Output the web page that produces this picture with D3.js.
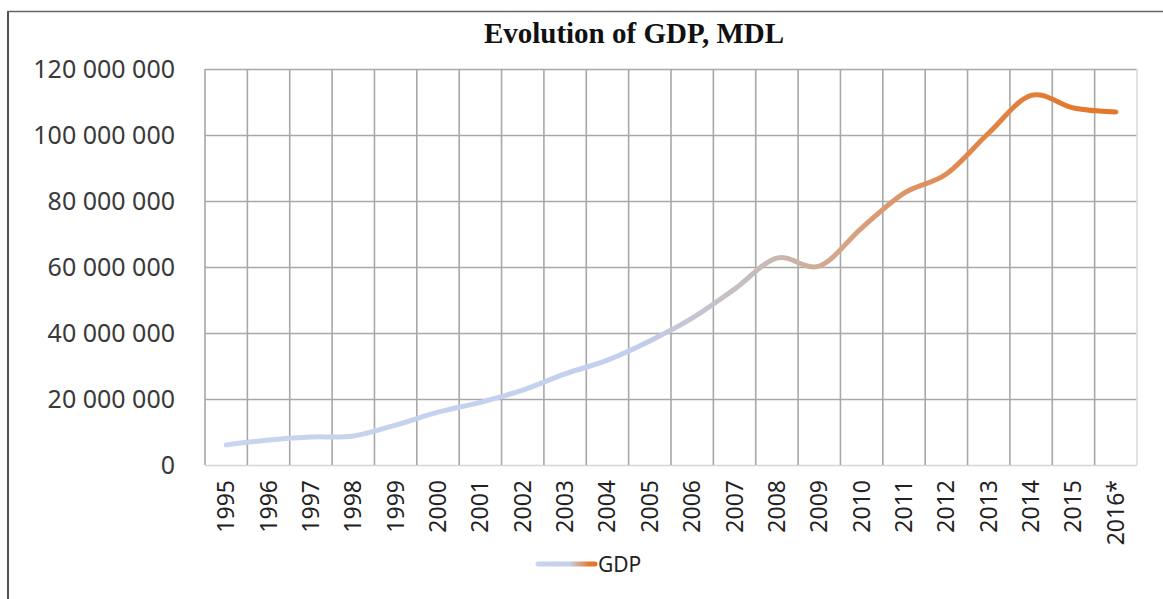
<!DOCTYPE html>
<html>
<head>
<meta charset="utf-8">
<script src="https://cdn.jsdelivr.net/npm/d3@7"></script>
<style>
  body { margin: 0; background: #fff; }
  svg { display: block; }
</style>
</head>
<body>
<svg id="gdpchart" width="1163" height="599"></svg>
<script>
let years = ['1995', '1996', '1997', '1998', '1999', '2000', '2001', '2002', '2003', '2004', '2005',
  '2006', '2007', '2008', '2009', '2010', '2011', '2012', '2013', '2014', '2015', '2016*'];
let gdpValues = [6100000, 7600000, 8500000, 8800000, 12100000, 16000000, 19000000, 22700000, 27600000,
  31800000, 37600000, 44500000, 53300000, 62700000, 60300000, 71800000, 82400000, 88200000,
  100600000, 112000000, 108200000, 107000000];
let yTicks = [0, 20000000, 40000000, 60000000, 80000000, 100000000, 120000000];
let titleText = 'Evolution of GDP, MDL';
let seriesName = 'GDP';

let chartSvg;
let innerLeft = 205;
let innerTop = 69;
let innerWidth = 932;
let innerHeight = 396;

document.addEventListener("DOMContentLoaded", function(){
    chartSvg = d3.select('#gdpchart');
    drawFrame();
    drawGrid();
    drawLine();
    drawLegend();
});

function drawFrame(){
    // outer chart border (left and top visible)
    chartSvg.append("line")
        .attr("x1", 8).attr("x2", 8).attr("y1", 11).attr("y2", 599)
        .attr("stroke", "#505050").attr("stroke-width", 2);
    chartSvg.append("line")
        .attr("x1", 7).attr("x2", 1163).attr("y1", 11.5).attr("y2", 11.5)
        .attr("stroke", "#666").attr("stroke-width", 1.5);

    chartSvg.append("text")
        .attr("x", 634).attr("y", 43)
        .attr("text-anchor", "middle")
        .style("font-family", "'Liberation Serif', serif")
        .style("font-weight", "bold")
        .style("font-size", "29px")
        .attr("fill", "#111")
        .text(titleText);
}

function drawGrid(){
    let x = d3.scaleBand().domain(years).range([0, innerWidth]);
    let y = d3.scaleLinear().domain([0, 120000000]).range([innerHeight, 0]);
    let fmt = d3.formatLocale({decimal: ".", thousands: " ", grouping: [3], currency: ["", ""]}).format(",");

    let g = chartSvg.append("g")
        .attr("transform", `translate(${innerLeft},${innerTop})`);

    // horizontal gridlines + labels
    g.append("g")
        .call(d3.axisLeft(y).tickValues(yTicks).tickFormat(fmt).tickSize(-innerWidth).tickPadding(30))
        .style("font-family", "'Noto Sans', sans-serif")
        .style("font-size", "25px")
        .call(g => g.select(".domain").remove())
        .call(g => g.selectAll(".tick line").attr("stroke", "#a8a8a8").attr("stroke-width", 1.6))
        .call(g => g.selectAll(".tick:first-of-type line").attr("stroke", "#d6d6d6"))
        .call(g => g.selectAll(".tick text").attr("fill", "#3a3a3a"));

    // vertical gridlines at category boundaries
    let bounds = years.map(d => x(d)).concat([innerWidth]);
    g.append("g").selectAll("line")
        .data(bounds)
        .enter()
        .append("line")
            .attr("x1", d => d).attr("x2", d => d)
            .attr("y1", 0).attr("y2", innerHeight)
            .attr("stroke", (d, i) => i == bounds.length - 1 ? "#dcdcdc" : "#a8a8a8")
            .attr("stroke-width", 1.6);

    // bottom axis labels, rotated
    g.append("g")
        .attr("transform", `translate(0,${innerHeight})`)
        .call(d3.axisBottom(x).tickSize(0).tickPadding(0))
        .style("font-family", "'Noto Sans', sans-serif")
        .style("font-size", "23px")
        .call(g => g.select(".domain").remove())
        .call(g => g.selectAll(".tick text")
            .attr("fill", "#222")
            .attr("text-anchor", "end")
            .attr("dy", null)
            .attr("y", 0)
            .attr("transform", "translate(8,15) rotate(-90)"));
}

function drawLine(){
    let x = d3.scaleBand().domain(years).range([0, innerWidth]);
    let y = d3.scaleLinear().domain([0, 120000000]).range([innerHeight, 0]);
    let data = years.map((d, i) => ({year: d, value: gdpValues[i]}));

    let defs = chartSvg.append("defs");
    let grad = defs.append("linearGradient")
        .attr("id", "gdpGrad")
        .attr("gradientUnits", "userSpaceOnUse")
        .attr("x1", x(years[0]) + x.bandwidth() / 2).attr("x2", x(years[years.length - 1]) + x.bandwidth() / 2)
        .attr("y1", 0).attr("y2", 0);
    [[0, "#c8d5f0"], [0.45, "#c2cfee"], [0.62, "#c9b8b1"], [0.72, "#d99d78"],
     [0.82, "#df8a52"], [0.92, "#e27c32"], [1, "#e2772b"]].forEach(s => {
        grad.append("stop").attr("offset", s[0]).attr("stop-color", s[1]);
    });

    let g = chartSvg.append("g")
        .attr("transform", `translate(${innerLeft},${innerTop})`);

    const line = d3.line()
        .x(d => x(d.year) + x.bandwidth() / 2)
        .y(d => y(d.value))
        .curve(d3.curveCardinal.tension(0));

    g.append("path")
        .datum(data)
        .style("fill", "none")
        .style("stroke", "url(#gdpGrad)")
        .style("stroke-width", "5")
        .style("stroke-linecap", "round")
        .attr("d", line);
}

function drawLegend(){
    let defs = chartSvg.select("defs");
    let grad = defs.append("linearGradient")
        .attr("id", "legGrad")
        .attr("gradientUnits", "userSpaceOnUse")
        .attr("x1", 538).attr("x2", 595).attr("y1", 0).attr("y2", 0);
    [[0, "#c8d5f0"], [0.55, "#c4cfea"], [0.75, "#d9a07c"], [0.9, "#e07a30"], [1, "#e2772b"]].forEach(s => {
        grad.append("stop").attr("offset", s[0]).attr("stop-color", s[1]);
    });
    chartSvg.append("line")
        .attr("x1", 538).attr("x2", 595).attr("y1", 564).attr("y2", 564)
        .attr("stroke", "url(#legGrad)").attr("stroke-width", 5).attr("stroke-linecap", "round");
    chartSvg.append("text")
        .attr("x", 598).attr("y", 572)
        .style("font-family", "'Noto Sans', sans-serif")
        .style("font-size", "21px")
        .attr("fill", "#222")
        .text(seriesName);
}
</script>
</body>
</html>
